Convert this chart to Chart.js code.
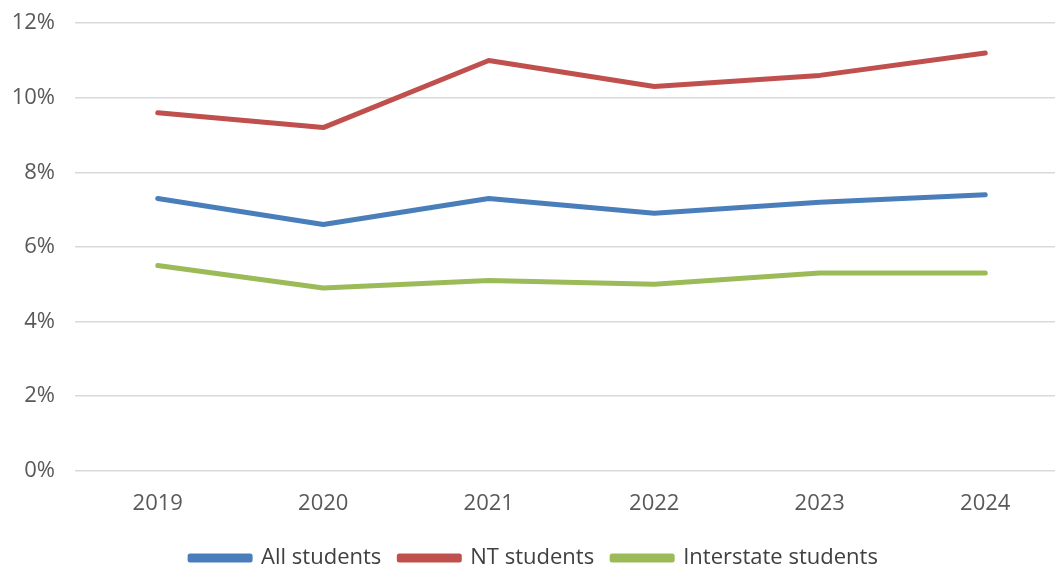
<!DOCTYPE html>
<html><head><meta charset="utf-8">
<script src="https://cdn.jsdelivr.net/npm/chart.js@4"></script>
<style>html,body{margin:0;padding:0;background:#fff;overflow:hidden}#w{width:1068px;height:589px;margin-top:-10px}</style>
</head><body><div id="w"><canvas id="c"></canvas></div>
<script>
const categories = ['2019','2020','2021','2022','2023','2024'];
const allStudents = [7.3, 6.6, 7.3, 6.9, 7.2, 7.4];
const ntStudents = [9.6, 9.2, 11.0, 10.3, 10.6, 11.2];
const interstateStudents = [5.5, 4.9, 5.1, 5.0, 5.3, 5.3];
const yTicks = [0, 2, 4, 6, 8, 10, 12];

const font = {family: "'Open Sans', Lato, sans-serif", size: 22};
function ds(label, data, color){
  return {label, data, borderColor: color, backgroundColor: color, borderWidth: 5,
    pointRadius: 0, tension: 0, fill: false, borderCapStyle: 'round', borderJoinStyle: 'round'};
}
new Chart(document.getElementById('c'), {
  type: 'line',
  data: {labels: categories, datasets: [
    ds('All students', allStudents, '#4A7EBB'),
    ds('NT students', ntStudents, '#C0504D'),
    ds('Interstate students', interstateStudents, '#9BBB59')
  ]},
  options: {
    responsive: true, maintainAspectRatio: false, animation: false,
    layout: {padding: {top: 0, right: 0, left: 0, bottom: 0}},
    plugins: {
      legend: {position: 'bottom', labels: {color: '#404040', font, boxWidth: 60, boxHeight: 4, padding: 18}},
      tooltip: {enabled: false}
    },
    scales: {
      x: {offset: true, grid: {display: false}, border: {display: false},
        ticks: {color: '#595959', font, padding: 12}},
      y: {min: 0, max: 12, afterBuildTicks: a => { a.ticks = yTicks.map(v => ({value: v})); },
        afterFit: a => { a.width = 75; },
        grid: {color: '#D9D9D9', lineWidth: 1.5, drawTicks: false}, border: {display: false},
        ticks: {color: '#595959', font, padding: 20, callback: v => v + '%'}}
    }
  }
});
</script></body></html>
